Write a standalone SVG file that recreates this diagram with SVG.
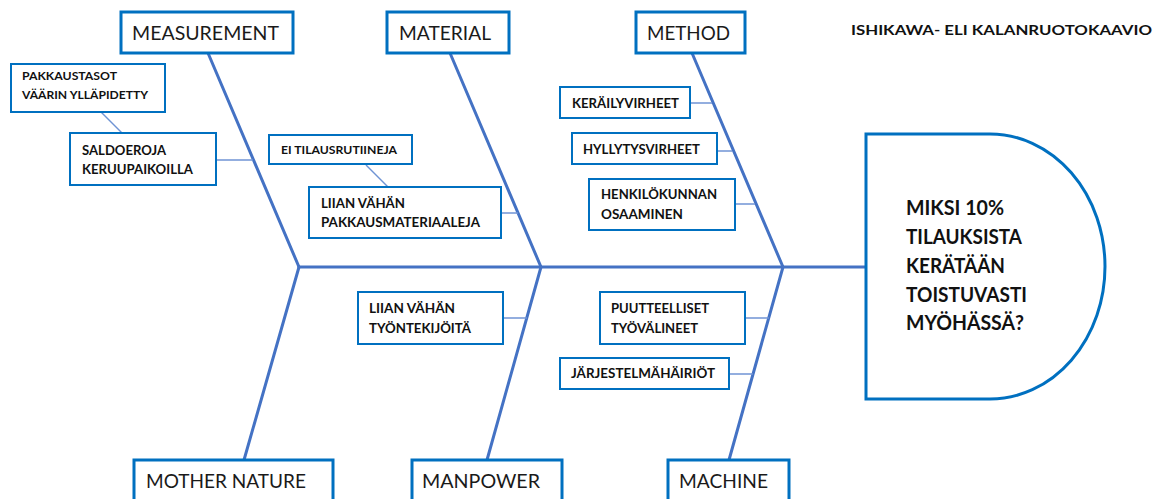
<svg xmlns="http://www.w3.org/2000/svg" width="1168" height="499" viewBox="0 0 1168 499">
  <style>
    .cat { fill: #ffffff; stroke: #0070C0; stroke-width: 3; }
    .sub { fill: #ffffff; stroke: #0070C0; stroke-width: 2; }
    .head { fill: #ffffff; stroke: #0070C0; stroke-width: 3; }
    .bone { stroke: #4472C4; stroke-width: 3; fill: none; stroke-linecap: round; }
    .twig { stroke: #6F93D4; stroke-width: 1.5; fill: none; }
    .catText { font-family: Lato, "Open Sans", "Liberation Sans", sans-serif; font-size: 20px; fill: #1a1a1a; }
    .subText { font-family: Lato, "Open Sans", "Liberation Sans", sans-serif; font-size: 13px; font-weight: bold; fill: #111111; }
    .smallText { font-family: Lato, "Open Sans", "Liberation Sans", sans-serif; font-size: 12px; font-weight: bold; fill: #111111; }
    .headText { font-family: Lato, "Open Sans", "Liberation Sans", sans-serif; font-size: 20px; font-weight: bold; fill: #111111; }
    .title { font-family: Lato, "Open Sans", "Liberation Sans", sans-serif; font-size: 14px; font-weight: bold; fill: #111111; }
  </style>
  <rect width="1168" height="499" fill="#ffffff"/>

  <!-- spine, bones and twigs -->
  <g id="connectors">
    <line class="bone" x1="299" y1="267" x2="866" y2="267"/>
    <line class="bone" x1="208" y1="53" x2="299" y2="267"/>
    <line class="bone" x1="450" y1="53" x2="541" y2="267"/>
    <line class="bone" x1="692" y1="53" x2="783" y2="267"/>
    <line class="bone" x1="299" y1="267" x2="244" y2="460"/>
    <line class="bone" x1="541" y1="267" x2="487" y2="460"/>
    <line class="bone" x1="783" y1="267" x2="729" y2="460"/>

    <line class="twig" x1="101" y1="112" x2="122" y2="133"/>
    <line class="twig" x1="216" y1="160" x2="253" y2="160"/>
    <line class="twig" x1="366" y1="165" x2="388" y2="187"/>
    <line class="twig" x1="501" y1="213" x2="518" y2="213"/>
    <line class="twig" x1="690" y1="103" x2="712" y2="103"/>
    <line class="twig" x1="717" y1="151" x2="732" y2="151"/>
    <line class="twig" x1="735" y1="204" x2="755" y2="204"/>
    <line class="twig" x1="503" y1="318" x2="527" y2="318"/>
    <line class="twig" x1="745" y1="318" x2="769" y2="318"/>
    <line class="twig" x1="729" y1="374" x2="753" y2="374"/>
  </g>

  <!-- category boxes -->
  <g id="measurement">
    <rect class="cat" x="121" y="12" width="172" height="41"/>
    <text class="catText" x="132" y="40" textLength="147" lengthAdjust="spacingAndGlyphs">MEASUREMENT</text>
  </g>
  <g id="material">
    <rect class="cat" x="387" y="12" width="122" height="41"/>
    <text class="catText" x="399" y="40" textLength="92" lengthAdjust="spacingAndGlyphs">MATERIAL</text>
  </g>
  <g id="method">
    <rect class="cat" x="636" y="12" width="109" height="41"/>
    <text class="catText" x="647" y="40" textLength="83" lengthAdjust="spacingAndGlyphs">METHOD</text>
  </g>
  <g id="mother-nature">
    <rect class="cat" x="134" y="460" width="199" height="50"/>
    <text class="catText" x="146" y="488" textLength="160" lengthAdjust="spacingAndGlyphs">MOTHER NATURE</text>
  </g>
  <g id="manpower">
    <rect class="cat" x="412" y="460" width="150" height="50"/>
    <text class="catText" x="422" y="488" textLength="118" lengthAdjust="spacingAndGlyphs">MANPOWER</text>
  </g>
  <g id="machine">
    <rect class="cat" x="668" y="460" width="121" height="50"/>
    <text class="catText" x="679" y="488" textLength="89" lengthAdjust="spacingAndGlyphs">MACHINE</text>
  </g>

  <!-- cause boxes -->
  <g id="pakkaustasot">
    <rect class="sub" x="11" y="64" width="154" height="48"/>
    <text class="smallText" x="22" y="80" textLength="95" lengthAdjust="spacingAndGlyphs">PAKKAUSTASOT</text>
    <text class="smallText" x="22" y="99" textLength="126" lengthAdjust="spacingAndGlyphs">VÄÄRIN YLLÄPIDETTY</text>
  </g>
  <g id="saldoeroja">
    <rect class="sub" x="70" y="133" width="146" height="52"/>
    <text class="subText" x="82" y="155" textLength="84" lengthAdjust="spacingAndGlyphs">SALDOEROJA</text>
    <text class="subText" x="82" y="174" textLength="111" lengthAdjust="spacingAndGlyphs">KERUUPAIKOILLA</text>
  </g>
  <g id="ei-tilausrutiineja">
    <rect class="sub" x="269" y="135" width="143" height="29"/>
    <text class="smallText" x="281" y="154" textLength="116" lengthAdjust="spacingAndGlyphs">EI TILAUSRUTIINEJA</text>
  </g>
  <g id="pakkausmateriaaleja">
    <rect class="sub" x="309" y="187" width="192" height="51"/>
    <text class="subText" x="321" y="208" textLength="84" lengthAdjust="spacingAndGlyphs">LIIAN VÄHÄN</text>
    <text class="subText" x="321" y="227" textLength="159" lengthAdjust="spacingAndGlyphs">PAKKAUSMATERIAALEJA</text>
  </g>
  <g id="kerailyvirheet">
    <rect class="sub" x="560" y="87" width="130" height="31"/>
    <text class="subText" x="572" y="108" textLength="107" lengthAdjust="spacingAndGlyphs">KERÄILYVIRHEET</text>
  </g>
  <g id="hyllytysvirheet">
    <rect class="sub" x="572" y="133" width="145" height="31"/>
    <text class="subText" x="583" y="154" textLength="117" lengthAdjust="spacingAndGlyphs">HYLLYTYSVIRHEET</text>
  </g>
  <g id="henkilokunnan-osaaminen">
    <rect class="sub" x="589" y="179" width="146" height="51"/>
    <text class="subText" x="601" y="199" textLength="116" lengthAdjust="spacingAndGlyphs">HENKILÖKUNNAN</text>
    <text class="subText" x="601" y="219" textLength="82" lengthAdjust="spacingAndGlyphs">OSAAMINEN</text>
  </g>
  <g id="tyontekijoita">
    <rect class="sub" x="358" y="292" width="145" height="52"/>
    <text class="subText" x="369" y="313" textLength="86" lengthAdjust="spacingAndGlyphs">LIIAN VÄHÄN</text>
    <text class="subText" x="369" y="333" textLength="102" lengthAdjust="spacingAndGlyphs">TYÖNTEKIJÖITÄ</text>
  </g>
  <g id="tyovalineet">
    <rect class="sub" x="600" y="292" width="145" height="52"/>
    <text class="subText" x="611" y="313" textLength="98" lengthAdjust="spacingAndGlyphs">PUUTTEELLISET</text>
    <text class="subText" x="611" y="333" textLength="87" lengthAdjust="spacingAndGlyphs">TYÖVÄLINEET</text>
  </g>
  <g id="jarjestelmahairiot">
    <rect class="sub" x="560" y="358" width="169" height="31"/>
    <text class="subText" x="571" y="378" textLength="144" lengthAdjust="spacingAndGlyphs">JÄRJESTELMÄHÄIRIÖT</text>
  </g>

  <!-- problem head -->
  <g id="problem">
    <path class="head" d="M866,134 H990 A115,132.5 0 0 1 990,399 H866 Z"/>
    <text class="headText" x="906" y="215" textLength="98" lengthAdjust="spacingAndGlyphs">MIKSI 10%</text>
    <text class="headText" x="906" y="244" textLength="116" lengthAdjust="spacingAndGlyphs">TILAUKSISTA</text>
    <text class="headText" x="906" y="273" textLength="99" lengthAdjust="spacingAndGlyphs">KERÄTÄÄN</text>
    <text class="headText" x="906" y="302" textLength="121" lengthAdjust="spacingAndGlyphs">TOISTUVASTI</text>
    <text class="headText" x="906" y="330" textLength="118" lengthAdjust="spacingAndGlyphs">MYÖHÄSSÄ?</text>
  </g>

  <g id="title">
    <text class="title" x="851" y="35" textLength="301" lengthAdjust="spacingAndGlyphs">ISHIKAWA- ELI KALANRUOTOKAAVIO</text>
  </g>
</svg>
